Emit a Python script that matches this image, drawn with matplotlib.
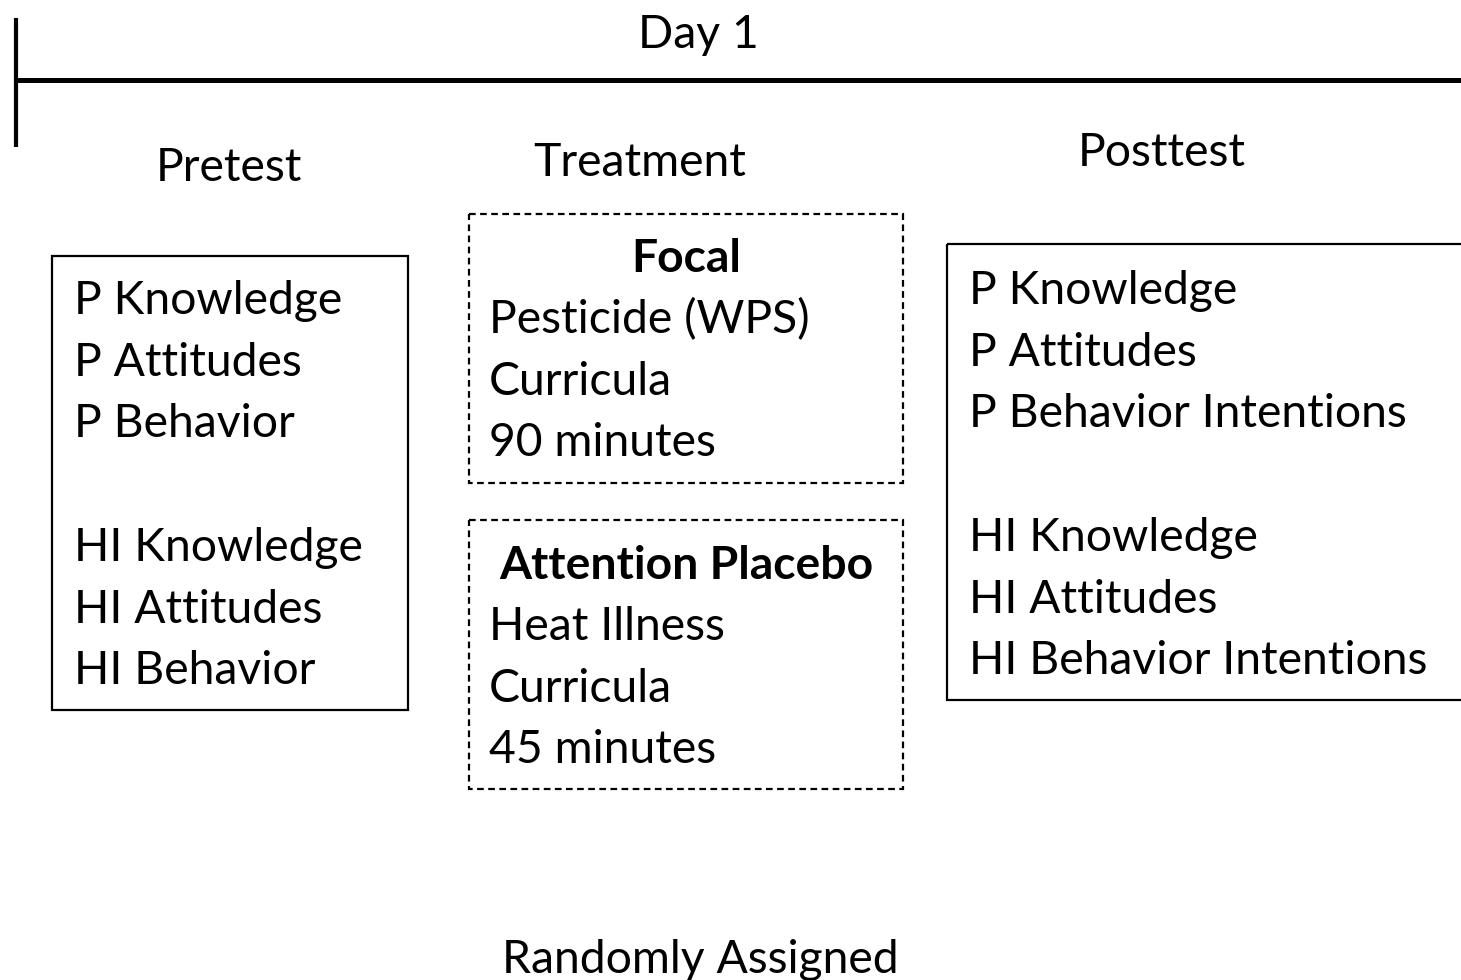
import matplotlib
matplotlib.use("Agg")
import matplotlib.pyplot as plt
from matplotlib.patches import Rectangle

# diagram content
timeline_label = "Day 1"
phase_labels = ["Pretest", "Treatment", "Posttest"]
pretest_items = ["P Knowledge", "P Attitudes", "P Behavior", "",
                 "HI Knowledge", "HI Attitudes", "HI Behavior"]
focal_title = "Focal"
focal_items = ["Pesticide (WPS)", "Curricula", "90 minutes"]
placebo_title = "Attention Placebo"
placebo_items = ["Heat Illness", "Curricula", "45 minutes"]
posttest_items = ["P Knowledge", "P Attitudes", "P Behavior Intentions", "",
                  "HI Knowledge", "HI Attitudes", "HI Behavior Intentions"]
footer = "Randomly Assigned"

plt.rcParams["font.family"] = ["Lato", "DejaVu Sans"]
FS = 33.3
STEP = 61.7
DY = 3  # small baseline nudge

fig = plt.figure(figsize=(14.61, 9.80), dpi=100)
ax = fig.add_axes([0, 0, 1, 1])
ax.set_xlim(0, 1461)
ax.set_ylim(980, 0)
ax.axis("off")

# timeline
ax.plot([16, 16], [18, 147], color="black", lw=3, solid_capstyle="butt")
ax.plot([16, 1461], [80, 80], color="black", lw=3.6, solid_capstyle="butt")
ax.text(698, 32 + DY, timeline_label, fontsize=FS, ha="center", va="center")

for (x, y), lab in zip([(229, 165), (640, 160), (1162, 150)], phase_labels):
    ax.text(x, y + DY, lab, fontsize=FS, ha="center", va="center")

def box(x0, y0, x1, y1, dashed=False):
    ax.add_patch(Rectangle((x0, y0), x1 - x0, y1 - y0, fill=False,
                           edgecolor="black", lw=1.6,
                           linestyle=(0, (3, 2)) if dashed else "-"))

def lines(x, y0, items):
    for i, s in enumerate(items):
        if s:
            ax.text(x, y0 + DY + i * STEP, s, fontsize=FS, ha="left", va="center")

# pretest
box(52, 256, 408, 710)
lines(74, 298, pretest_items)

# focal treatment
box(469, 214, 903, 483, dashed=True)
ax.text(686, 256 + DY, focal_title, fontsize=FS, ha="center", va="center", weight="bold")
lines(489, 317, focal_items)

# attention placebo
box(469, 520, 903, 789, dashed=True)
ax.text(686, 563 + DY, placebo_title, fontsize=FS, ha="center", va="center", weight="bold")
lines(489, 624, placebo_items)

# posttest
box(947, 244, 1475, 700)
lines(969, 288, posttest_items)

ax.text(700, 957 + DY, footer, fontsize=FS, ha="center", va="center")

fig.savefig("out.png", dpi=100)
